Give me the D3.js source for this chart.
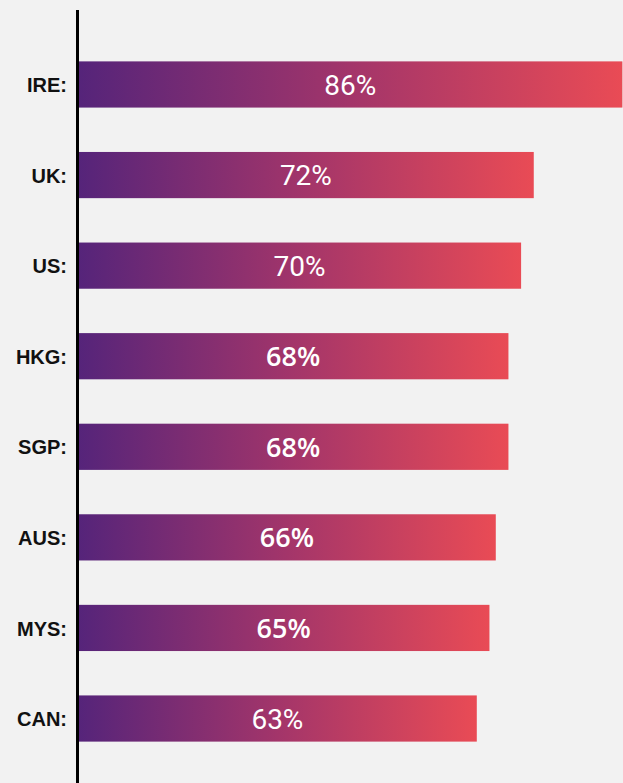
<!DOCTYPE html>
<meta charset="utf-8">
<style>
body { margin: 0; background: #f2f2f2; }
svg { display: block; }
.country { font: bold 20px "Liberation Sans", Arial, sans-serif; fill: #111; text-anchor: end; }
.pct { font-size: 28px; fill: #fff; text-anchor: middle; }
</style>
<svg width="623" height="783"></svg>
<script src="https://cdn.jsdelivr.net/npm/d3@7"></script>
<script>

var countries = ["IRE", "UK", "US", "HKG", "SGP", "AUS", "MYS", "CAN"];
var shares = [86, 72, 70, 68, 68, 66, 65, 63];

var svg = d3.select("svg"),
    width = +svg.attr("width"),
    height = +svg.attr("height");

var x0 = 78;

var x = d3.scaleLinear()
    .domain([0, 100])
    .range([x0, x0 + 633]);

var y = d3.scaleBand()
    .domain(countries)
    .range([17, 786])
    .paddingInner(0.49)
    .paddingOuter(0.49);

svg.append("rect")
    .attr("width", width)
    .attr("height", height)
    .attr("fill", "#f2f2f2");

var grad = svg.append("defs").append("linearGradient")
    .attr("id", "barGrad")
    .attr("x1", 0).attr("x2", 1).attr("y1", 0).attr("y2", 0);
grad.append("stop").attr("offset", "0%").attr("stop-color", "#55247a");
grad.append("stop").attr("offset", "50%").attr("stop-color", "#a3356a");
grad.append("stop").attr("offset", "100%").attr("stop-color", "#e94b55");

var rows = svg.selectAll(".row")
    .data(countries)
  .enter().append("g")
    .attr("class", "row")
    .attr("transform", function(d) { return "translate(0," + y(d) + ")"; });

rows.append("rect")
    .attr("x", x0)
    .attr("width", function(d, i) { return x(shares[i]) - x0; })
    .attr("height", y.bandwidth())
    .attr("fill", "url(#barGrad)");

rows.append("text")
    .attr("class", "country")
    .attr("x", 67)
    .attr("y", y.bandwidth() / 2)
    .attr("dy", "0.38em")
    .text(function(d) { return d + ":"; });

// middle rows use a heavier face, like the original
rows.append("text")
    .attr("class", "pct")
    .attr("x", function(d, i) { return (x0 + x(shares[i])) / 2; })
    .attr("y", y.bandwidth() / 2)
    .attr("dy", "0.36em")
    .style("font-family", function(d, i) { return (i > 2 && i < 7) ? "'Open Sans', sans-serif" : "Roboto, sans-serif"; })
    .style("font-weight", function(d, i) { return (i > 2 && i < 7) ? 600 : 400; })
    .style("font-size", function(d, i) { return (i > 2 && i < 7) ? "27px" : "28px"; })
    .text(function(d, i) { return shares[i] + "%"; });

// axis line
svg.append("line")
    .attr("x1", 77.5).attr("x2", 77.5)
    .attr("y1", 10).attr("y2", height)
    .attr("stroke", "#000")
    .attr("stroke-width", 3);

</script>
